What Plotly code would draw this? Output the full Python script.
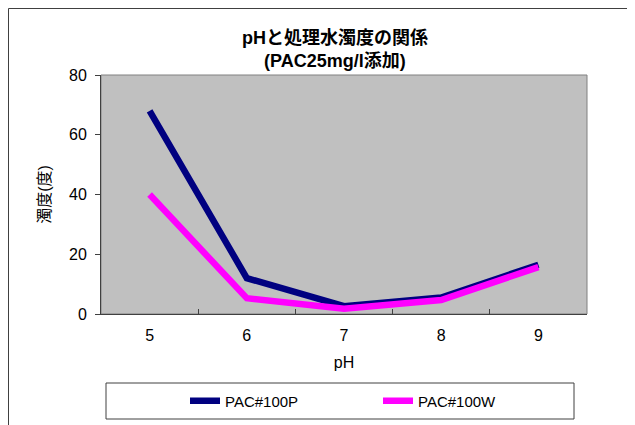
import plotly.graph_objects as go

ph = ["5", "6", "7", "8", "9"]
pac100p = [68, 12, 2.6, 5.5, 16.5]
pac100w = [40, 5.3, 1.8, 4.7, 15.7]
y_ticks = [0, 20, 40, 60, 80]

FONT = "Liberation Sans, Noto Sans CJK JP, sans-serif"

# page body has an 8px margin: work in screenshot pixels and shift by OFF
OFF = 8
W, H = 635 - OFF, 425 - OFF
X0, X1, Y0, Y1 = 101, 587, 75, 314  # plot area in screenshot pixels
L, R, T, B = X0 - OFF, W - (X1 - OFF), Y0 - OFF, H - (Y1 - OFF)
pw, ph_ = W - L - R, H - T - B

def px(x):
    return (x - X0) / pw

def py(y):
    return (Y1 - y) / ph_

fig = go.Figure()
fig.add_trace(go.Scatter(x=ph, y=pac100p, mode="lines", name="PAC#100P",
                         line=dict(color="#000080", width=6.5)))
fig.add_trace(go.Scatter(x=ph, y=pac100w, mode="lines", name="PAC#100W",
                         line=dict(color="#FF00FF", width=6.5)))

fig.update_layout(
    width=W, height=H,
    margin=dict(l=L, r=R, t=T, b=B, autoexpand=False),
    paper_bgcolor="white",
    plot_bgcolor="#C0C0C0",
    font=dict(family=FONT, size=15, color="black"),
    showlegend=True,
    legend=dict(orientation="h", xref="container", yref="container",
                x=(185 - OFF) / W, y=1 - (401 - OFF) / H, xanchor="left", yanchor="middle",
                entrywidth=148, entrywidthmode="pixels",
                bgcolor="rgba(0,0,0,0)", borderwidth=0,
                font=dict(size=15, family=FONT), itemwidth=30,
                tracegroupgap=0),
    xaxis=dict(type="category", range=[-0.5, 4.5], showline=True, linecolor="#404040",
               linewidth=1, ticks="inside", tickson="boundaries", ticklen=5,
               tickcolor="#404040", showgrid=False, zeroline=False,
               tickfont=dict(size=16), ticklabelstandoff=7,
               title=dict(text="pH", standoff=13, font=dict(size=16))),
    yaxis=dict(range=[0, 80], tickvals=y_ticks, showline=True, linecolor="#404040",
               linewidth=1, ticks="outside", ticklen=5, tickcolor="#404040",
               showgrid=False, zeroline=False, tickfont=dict(size=16),
               ticklabelstandoff=5,
               title=dict(text="濁度(度)", standoff=14, font=dict(size=16))),
    annotations=[
        dict(text="<b>pHと処理水濁度の関係</b>", xref="paper", yref="paper",
             x=px(335), y=py(38), yanchor="middle", showarrow=False,
             font=dict(size=18, family=FONT)),
        dict(text="<b>(PAC25mg/l添加)</b>", xref="paper", yref="paper",
             x=px(335), y=py(61), yanchor="middle", showarrow=False,
             font=dict(size=18, family=FONT)),
    ],
    shapes=[
        dict(type="rect", xref="paper", yref="paper", x0=0, x1=1, y0=0, y1=1,
             line=dict(color="#808080", width=1), layer="below"),
        dict(type="rect", xref="paper", yref="paper", x0=px(106), x1=px(574),
             y0=py(419), y1=py(383), line=dict(color="#404040", width=1)),
        dict(type="rect", xref="paper", yref="paper", x0=px(8.5), x1=px(628),
             y0=py(440), y1=py(8.5), line=dict(color="#404040", width=1)),
    ],
)

fig.write_html("out.html")
